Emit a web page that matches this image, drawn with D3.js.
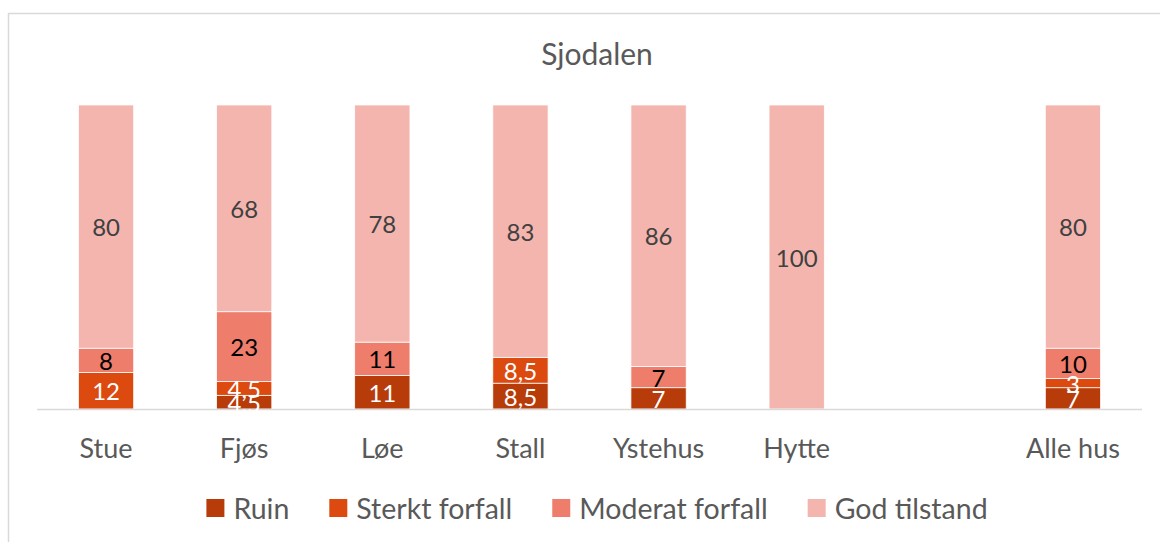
<!DOCTYPE html>
<html>
<head>
<meta charset="utf-8">
<script src="https://cdn.jsdelivr.net/npm/d3@7"></script>
<style>
  body { margin: 0; background: #fff; }
  text { font-family: Lato, "Open Sans", sans-serif; }
</style>
</head>
<body>
<div id="chart"></div>
<script>
// data (percent)
var categories = ["Stue", "Fjøs", "Løe", "Stall", "Ystehus", "Hytte", "", "Alle hus"];
var seriesNames = ["Ruin", "Sterkt forfall", "Moderat forfall", "God tilstand"];
var ruin     = [0,  4.5, 11, 8.5, 7,  0,   null, 7];
var sterkt   = [12, 4.5, 0,  8.5, 0,  0,   null, 3];
var moderat  = [8,  23,  11, 0,   7,  0,   null, 10];
var god      = [80, 68,  78, 83,  86, 100, null, 80];
var title = "Sjodalen";

var colors = ["#B83C0A", "#DC4A10", "#EE7D6C", "#F4B5AF"];
var labelColors = ["#ffffff", "#ffffff", "#000000", "#404040"];

var W = 1160, H = 542;
var svg = d3.select("#chart").append("svg")
    .attr("width", W)
    .attr("height", H);

// chart border
svg.append("rect")
    .attr("x", 8.5).attr("y", 13.5)
    .attr("width", W).attr("height", H)
    .attr("fill", "none")
    .attr("stroke", "#D9D9D9")
    .attr("stroke-width", 1.5);

var rows = categories.map(function(c, i) {
  return {cat: c, "Ruin": ruin[i] || 0, "Sterkt forfall": sterkt[i] || 0,
          "Moderat forfall": moderat[i] || 0, "God tilstand": god[i] || 0};
});

var x = d3.scaleBand()
    .domain(categories)
    .range([37, 1142])
    .paddingInner(0.6)
    .paddingOuter(0.3);

var y = d3.scaleLinear()
    .domain([0, 100])
    .range([409, 105]);

var stacked = d3.stack().keys(seriesNames)(rows);

// title
svg.append("text")
    .attr("x", 597).attr("y", 53)
    .attr("text-anchor", "middle")
    .attr("dominant-baseline", "central")
    .attr("fill", "#595959")
    .style("font-size", "30px")
    .text(title);

// bars
var layers = svg.append("g").selectAll("g")
  .data(stacked)
  .enter().append("g")
    .attr("fill", function(d, i) { return colors[i]; });

layers.selectAll("rect")
  .data(function(d) { return d.filter(function(p) { return p[1] - p[0] > 0; }); })
  .enter().append("rect")
    .attr("x", function(d) { return x(d.data.cat); })
    .attr("y", function(d) { return y(d[1]); })
    .attr("width", x.bandwidth())
    .attr("height", function(d) { return y(d[0]) - y(d[1]); })
    .attr("stroke", "#fff")
    .attr("stroke-width", 0.75);

// x axis line
svg.append("line")
    .attr("x1", 37).attr("x2", 1142)
    .attr("y1", 409.5).attr("y2", 409.5)
    .attr("stroke", "#D9D9D9")
    .attr("stroke-width", 1.5);

// data labels
var fmt = function(v) { return String(v).replace(".", ","); };
stacked.forEach(function(layer, li) {
  svg.append("g").selectAll("text")
    .data(layer.filter(function(p) { return p[1] - p[0] > 0; }))
    .enter().append("text")
      .attr("x", function(d) { return x(d.data.cat) + x.bandwidth() / 2; })
      .attr("y", function(d) { return y((d[0] + d[1]) / 2); })
      .attr("text-anchor", "middle")
      .attr("dominant-baseline", "central")
      .attr("fill", labelColors[li])
      .style("font-size", "24px")
      .text(function(d) { return fmt(d[1] - d[0]); });
});

// category labels
svg.append("g").selectAll("text")
  .data(categories)
  .enter().append("text")
    .attr("x", function(d) { return x(d) + x.bandwidth() / 2; })
    .attr("y", 447)
    .attr("text-anchor", "middle")
    .attr("dominant-baseline", "central")
    .attr("fill", "#595959")
    .style("font-size", "27px")
    .text(function(d) { return d; });

// legend
var legend = svg.append("g");
var lx = 0;
seriesNames.forEach(function(name, i) {
  var item = legend.append("g").attr("transform", "translate(" + lx + ",0)");
  item.append("rect")
    .attr("x", 0).attr("y", -9)
    .attr("width", 18).attr("height", 18)
    .attr("fill", colors[i]);
  var t = item.append("text")
    .attr("x", 27).attr("y", 0)
    .attr("dominant-baseline", "central")
    .attr("fill", "#595959")
    .style("font-size", "28.5px")
    .text(name);
  lx += 27 + t.node().getComputedTextLength() + 40;
});
lx -= 40;
legend.attr("transform", "translate(" + (597 - lx / 2) + ",508)");
</script>
</body>
</html>
